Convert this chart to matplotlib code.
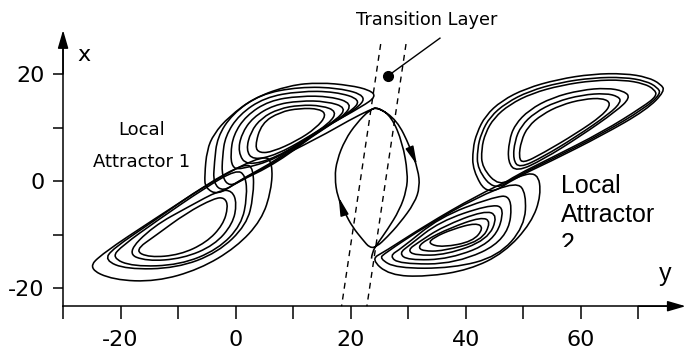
import matplotlib
matplotlib.use("Agg")
import matplotlib.pyplot as plt
from matplotlib.path import Path
from matplotlib.patches import PathPatch, Rectangle

# ── axis ticks (horizontal axis is "y", vertical axis is "x") ────────────────
H_TICKS = [-30, -20, -10, 0, 10, 20, 30, 40, 50, 60, 70]
H_LABELS = ["", "-20", "", "0", "", "20", "", "40", "", "60", ""]
V_TICKS = [-20, -10, 0, 10, 20]
V_LABELS = ["-20", "", "0", "", "20"]

# ── trajectory loops, (y, x) pairs ──────────────────────────────────────────
a1_upper_loops = [
    [(3.3, 6.4), (4.5, 10.8), (7.7, 12.9), (11.1, 13.6), (14.6, 13.5), (15.8, 12.3),
     (14.0, 9.9), (10.6, 7.5), (6.5, 5.5), (4.2, 5.2)],
    [(1.8, 5.8), (2.6, 9.2), (4.5, 11.8), (7.5, 13.5), (11.1, 14.2), (15.0, 14.1),
     (17.6, 13.0), (16.3, 10.8), (12.3, 8.0), (7.1, 4.9), (3.0, 3.9)],
    [(0.4, 5.4), (1.0, 8.8), (3.0, 11.9), (6.6, 14.2), (11.1, 15.0), (15.8, 14.9),
     (19.3, 13.7), (17.5, 11.4), (12.9, 8.3), (7.1, 4.4), (1.9, 2.8)],
    [(-0.9, 5.0), (-0.4, 8.6), (1.8, 12.2), (5.8, 15.0), (11.1, 15.9), (16.5, 15.8),
     (20.3, 14.5), (18.7, 12.0), (13.4, 8.8), (7.1, 4.1), (0.7, 2.1), (-0.6, 2.6)],
    [(-2.3, 4.6), (-1.8, 8.4), (0.6, 12.4), (5.0, 15.6), (11.1, 16.8), (17.3, 16.7),
     (21.9, 15.2), (19.8, 12.8), (14.0, 9.2), (7.1, 3.9), (1.3, 0.5), (-1.0, -1.1),
     (-2.4, 0.8)],
    [(-3.7, 3.5), (-3.2, 8.2), (-0.6, 12.5), (4.2, 16.2), (11.1, 17.6), (18.0, 17.4),
     (22.8, 15.9), (21.0, 13.4), (14.6, 9.5), (7.1, 3.6), (0.7, 0.1), (-2.2, -2.0),
     (-3.9, -0.4)],
    [(-5.4, 1.1), (-5.0, 5.8), (-3.8, 8.8), (-1.2, 12.0), (3.3, 15.6), (9.4, 17.9),
     (14.6, 18.4), (19.8, 17.9), (23.3, 17.0), (24.4, 15.8), (22.1, 14.0), (15.2, 9.9),
     (7.1, 3.3), (0.1, -0.3), (-3.1, -2.6), (-5.3, -1.3)],
]

a1_lower_loops = [
    [(-17.6, -13.0), (-15.0, -14.3), (-9.7, -13.8), (-5.1, -11.5), (-2.2, -8.2),
     (-1.3, -4.8), (-1.9, -3.1), (-3.7, -3.2), (-8.6, -6.0), (-13.8, -10.1)],
    [(-19.0, -13.5), (-15.5, -15.0), (-9.2, -14.5), (-3.7, -12.0), (-0.5, -8.0),
     (0.2, -4.2), (-0.6, -1.8), (-2.8, -1.7), (-8.0, -4.7), (-14.4, -8.5)],
    [(-21.6, -14.3), (-17.9, -16.0), (-9.7, -15.7), (-3.1, -12.8), (1.0, -8.2),
     (2.0, -2.9), (1.7, 1.1), (0.1, 2.1), (-5.1, -1.1), (-13.8, -7.5), (-19.6, -12.0)],
    [(-22.8, -14.8), (-19.0, -16.5), (-10.3, -16.3), (-3.1, -13.4), (1.9, -8.2),
     (3.1, -2.9), (3.1, 2.4), (1.6, 3.3), (-5.1, -0.6), (-14.4, -7.6), (-21.3, -12.6)],
    [(-25.7, -16.3), (-21.3, -18.5), (-13.8, -18.8), (-6.3, -16.5), (0.1, -12.4),
     (4.5, -7.3), (6.2, -1.7), (6.4, 3.3), (5.0, 4.9), (-2.8, 0.8), (-14.4, -7.3),
     (-23.1, -13.5)],
]

a2_upper_loops = [
    [(49.2, 4.4), (49.6, 7.5), (50.8, 10.2), (53.2, 12.4), (56.5, 14.2), (60.4, 15.3),
     (63.8, 15.5), (65.3, 14.5), (63.8, 12.3), (59.2, 8.9), (53.4, 5.2), (49.9, 3.3)],
    [(48.2, 4.0), (48.5, 7.5), (49.6, 10.3), (52.0, 12.8), (55.6, 14.8), (60.2, 16.1),
     (64.3, 16.4), (66.5, 15.8), (67.0, 14.8), (65.0, 12.6), (59.2, 8.3), (53.4, 4.5),
     (49.3, 2.4)],
    [(47.3, 3.5), (47.5, 7.5), (48.5, 10.5), (51.0, 13.3), (55.0, 15.6), (60.0, 17.0),
     (64.5, 17.4), (67.5, 16.8), (68.6, 15.6), (66.2, 13.1), (59.8, 8.3), (53.4, 4.0),
     (48.8, 1.7)],
    [(45.8, -1.0), (42.8, 2.5), (42.7, 6.0), (43.4, 9.0), (44.9, 11.8), (47.6, 14.3),
     (51.5, 16.4), (56.6, 17.9), (62.2, 18.8), (67.4, 18.9), (71.0, 18.2), (72.8, 17.1),
     (73.2, 15.9), (70.8, 13.9), (63.8, 9.2), (54.6, 4.2), (48.8, 1.1)],
    [(45.0, -1.8), (42.0, 2.2), (42.0, 6.0), (42.7, 9.0), (44.2, 12.0), (47.0, 14.6),
     (51.0, 16.8), (56.3, 18.4), (62.1, 19.3), (67.5, 19.4), (71.3, 18.7), (73.3, 17.5),
     (73.9, 16.3), (71.1, 13.6), (63.8, 8.9), (54.6, 3.9), (48.8, 0.9)],
    [(43.8, -2.8), (41.2, 2.0), (41.2, 6.0), (41.9, 9.0), (43.4, 12.2), (46.2, 15.0),
     (50.4, 17.3), (56.0, 19.0), (62.0, 20.0), (67.6, 20.1), (71.6, 19.4), (73.9, 18.1),
     (74.6, 16.8), (71.4, 13.3), (63.8, 8.6), (54.6, 3.6), (48.8, 0.7)],
]

a2_lower_loops = [
    [(33.4, -11.7), (34.5, -10.5), (37.7, -9.0), (41.8, -7.8), (43.1, -8.8),
     (41.2, -11.3), (36.0, -12.4)],
    [(31.7, -12.3), (33.1, -11.0), (37.2, -8.8), (42.7, -6.7), (44.4, -7.6),
     (42.7, -11.2), (36.0, -13.1), (32.5, -13.1)],
    [(29.9, -12.9), (31.7, -11.5), (36.0, -8.5), (43.2, -5.5), (45.6, -6.4),
     (43.8, -11.0), (36.6, -13.8), (31.1, -13.9)],
    [(28.4, -13.5), (30.2, -12.0), (35.4, -7.6), (43.8, -4.5), (46.9, -4.8),
     (45.0, -11.3), (37.2, -14.6), (29.9, -14.8)],
    [(26.7, -14.0), (28.8, -12.6), (35.4, -6.8), (44.4, -3.1), (48.2, -2.6),
     (47.3, -11.0), (38.3, -15.5), (28.5, -15.5)],
    [(25.0, -14.5), (25.9, -13.5), (33.1, -8.4), (41.8, -3.1), (48.8, -0.1),
     (50.5, -2.3), (50.2, -8.5), (45.6, -14.1), (37.7, -16.3), (27.9, -16.3)],
    [(23.5, -14.6), (25.9, -13.2), (33.1, -8.2), (41.8, -2.8), (48.8, 0.8),
     (52.5, 1.7), (53.1, -2.6), (51.4, -7.8), (46.7, -13.4), (40.6, -16.6),
     (33.1, -17.9), (26.7, -17.6)],
]

# path crossing the transition layer from attractor 1 to attractor 2
transition_path = [
    (9.4, 5.4), (14.6, 8.2), (19.8, 11.4), (23.3, 13.3), (24.7, 13.8), (28.0, 11.4),
    (30.3, 6.4), (31.7, 2.1), (32.0, -1.1), (31.1, -4.1), (28.5, -7.9), (26.3, -10.5),
    (24.5, -12.3), (23.3, -12.5), (22.1, -11.0), (20.3, -8.6), (19.0, -6.0),
    (17.7, -3.0), (17.2, 0.7), (17.6, 3.9), (19.0, 7.7), (21.0, 10.8), (23.3, 13.3),
    (24.7, 13.8), (27.1, 12.0), (29.0, 7.1), (29.9, 1.5), (29.7, -1.7), (28.5, -5.4),
    (26.3, -9.2), (24.7, -11.6), (23.7, -13.3), (23.6, -14.5),
]
# direction arrows on the transition loop: (tail, tip)
flow_arrows = [((30.4, 5.8), (31.5, 3.0)), ((18.8, -6.0), (17.9, -3.0))]

# transition layer boundaries (dashed)
layer_left = [(25.2, 25.6), (18.4, -23.4)]
layer_right = [(29.6, 25.6), (22.8, -23.4)]
callout_dot = (26.4, 19.6)
callout_end = (35.5, 26.7)


def smooth_path(pts, closed=True):
    """Quadratic B-spline through the midpoints of the control points."""
    def mid(a, b):
        return ((a[0] + b[0]) / 2, (a[1] + b[1]) / 2)
    n = len(pts)
    if closed:
        verts = [mid(pts[-1], pts[0])]
        codes = [Path.MOVETO]
        for i in range(n):
            verts += [pts[i], mid(pts[i], pts[(i + 1) % n])]
            codes += [Path.CURVE3, Path.CURVE3]
    else:
        verts = [pts[0]]
        codes = [Path.MOVETO]
        for i in range(1, n - 1):
            end = mid(pts[i], pts[i + 1]) if i < n - 2 else pts[-1]
            verts += [pts[i], end]
            codes += [Path.CURVE3, Path.CURVE3]
    return Path(verts, codes)


fig = plt.figure(figsize=(6.86, 3.61), dpi=100)
ax = fig.add_axes([0, 0, 1, 1])
ax.set_xlim(-40.96, 78.26)
ax.set_ylim(-33.64, 33.83)

LW = 1.15
for group in (a1_upper_loops, a1_lower_loops, a2_upper_loops, a2_lower_loops):
    for loop in group:
        ax.add_patch(PathPatch(smooth_path(loop), fill=False, lw=LW, ec="black"))
ax.add_patch(PathPatch(smooth_path(transition_path, closed=False), fill=False,
                       lw=LW, ec="black"))

for tail, tip in flow_arrows:
    ax.annotate("", xy=tip, xytext=tail,
                arrowprops=dict(arrowstyle="-|>,head_length=1.1,head_width=0.25",
                                lw=LW, color="black", shrinkA=0, shrinkB=0))

for seg in (layer_left, layer_right):
    ax.plot([p[0] for p in seg], [p[1] for p in seg], color="black", lw=1.0,
            dashes=(4.3, 3.6))

ax.plot([callout_dot[0], callout_end[0]], [callout_dot[1], callout_end[1]],
        color="black", lw=1.0)
ax.plot(*callout_dot, "o", color="black", ms=7)

# ── axes with arrows ────────────────────────────────────────────────────────
for side in ("top", "right"):
    ax.spines[side].set_visible(False)
ax.spines["left"].set_position(("data", -30))
ax.spines["bottom"].set_position(("data", -23.4))
ax.spines["left"].set_bounds(-23.4, 26)
ax.spines["bottom"].set_bounds(-30, 76)
for side in ("left", "bottom"):
    ax.spines[side].set_linewidth(1.1)

ax.set_xticks(H_TICKS)
ax.set_xticklabels(H_LABELS)
ax.set_yticks(V_TICKS)
ax.set_yticklabels(V_LABELS)
ax.tick_params(axis="x", direction="out", length=9.4, width=1.1, pad=8, labelsize=16)
ax.tick_params(axis="y", direction="out", length=7.2, width=1.1, pad=6, labelsize=16)

arrow_style = "-|>,head_length=1.1,head_width=0.32"
ax.annotate("", xy=(-30, 28.2), xytext=(-30, 20),
            arrowprops=dict(arrowstyle=arrow_style, lw=1.1, color="black",
                            shrinkA=0, shrinkB=0))
ax.annotate("", xy=(78.2, -23.4), xytext=(70, -23.4),
            arrowprops=dict(arrowstyle=arrow_style, lw=1.1, color="black",
                            shrinkA=0, shrinkB=0))

ax.text(-26.3, 23.6, "x", fontsize=16, ha="center", va="center")
ax.text(74.6, -17.4, "y", fontsize=18, ha="center", va="center",
        family="Liberation Sans")

# ── annotations ─────────────────────────────────────────────────────────────
ax.text(33.2, 30.1, "Transition Layer", fontsize=12.8, ha="center", va="center")
ax.text(-16.3, 8.6, "Local", fontsize=13, ha="center", va="baseline")
ax.text(-16.3, 2.6, "Attractor 1", fontsize=13, ha="center", va="baseline")

for text, base in (("Local", -2.24), ("Attractor", -7.66)):
    ax.text(56.5, base, text, fontsize=18, ha="left", va="baseline",
            family="Liberation Sans")
two = ax.text(56.5, -13.1, "2", fontsize=18, ha="left", va="baseline",
              family="Liberation Sans", clip_on=True)
clip = Rectangle((50, -12.3), 20, 10, transform=ax.transData)
two.set_clip_path(clip)

fig.savefig("out.png", dpi=100)
